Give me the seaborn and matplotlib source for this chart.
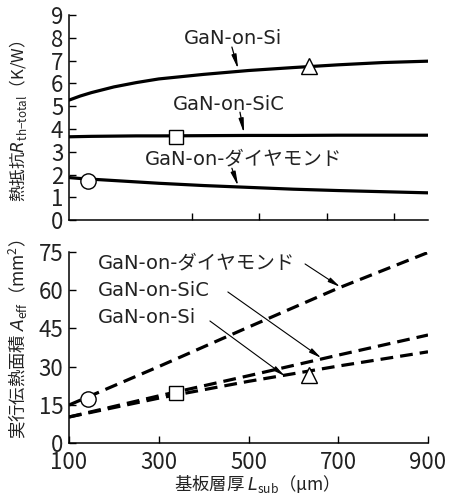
import numpy as np
import pandas as pd
import matplotlib
matplotlib.use("Agg")
import matplotlib.pyplot as plt
import seaborn as sns

sns.set_theme(style="ticks")
plt.rcParams['font.family'] = ['Noto Sans CJK JP', 'DejaVu Sans']
plt.rcParams['mathtext.fontset'] = 'custom'
plt.rcParams['mathtext.rm'] = 'Noto Sans CJK JP'
plt.rcParams['mathtext.it'] = 'DejaVu Sans:italic'

# substrate thickness (um)
L_top = [100, 125, 150, 200, 250, 300, 400, 500, 600, 700, 800, 900]
R_si = [5.27, 5.45, 5.6, 5.85, 6.04, 6.2, 6.4, 6.57, 6.7, 6.82, 6.92, 6.98]
R_sic = [3.66, 3.67, 3.68, 3.69, 3.7, 3.7, 3.71, 3.72, 3.72, 3.73, 3.73, 3.73]
R_dia = [1.87, 1.83, 1.8, 1.74, 1.68, 1.62, 1.52, 1.44, 1.36, 1.3, 1.25, 1.2]

L_bot = [100, 300, 500, 700, 900]
A_dia = [14.9, 30.0, 45.5, 60.8, 74.8]
A_sic = [10.2, 18.5, 26.4, 34.5, 42.4]
A_si = [10.2, 17.6, 24.2, 30.2, 35.8]

# highlighted points
mk_L = [142, 338, 635]
mk_R = [1.73, 3.66, 6.77]
mk_A = [17.1, 19.5, 26.7]
mk_shape = ['o', 's', '^']

top_ticks = [374, 523, 675, 824]

fig = plt.figure(figsize=(4.51, 4.97), dpi=100)
ax1 = fig.add_axes([0.153, 0.557, 0.796, 0.4125])
ax2 = fig.add_axes([0.153, 0.1087, 0.796, 0.3843])

lw = 2.3
for r in [R_si, R_sic, R_dia]:
    sns.lineplot(x=L_top, y=r, ax=ax1, color='black', lw=lw)

for a in [A_dia, A_sic, A_si]:
    sns.lineplot(x=L_bot, y=a, ax=ax2, color='black', lw=lw,
                 linestyle=(0, (4.0, 2.2)))

for ax, ys in [(ax1, mk_R), (ax2, mk_A)]:
    for x, y, m in zip(mk_L, ys, mk_shape):
        ax.plot(x, y, marker=m, ms=11 if m != 's' else 10.5, mfc='white',
                mec='black', mew=1.0, ls='none', zorder=5)

for ax in (ax1, ax2):
    ax.set_xlim(100, 900)
    for s in ['top', 'right']:
        ax.spines[s].set_visible(False)
    for s in ['left', 'bottom']:
        ax.spines[s].set_linewidth(1.1)
        ax.spines[s].set_color('black')
    ax.tick_params(direction='in', length=5, width=1.0, colors='black',
                   labelsize=16, labelcolor='#222222')
    ax.set_xlabel('')
    ax.set_ylabel('')

ax1.set_ylim(0, 9)
ax1.set_yticks(range(0, 10))
ax1.set_xticks(top_ticks)
ax1.set_xticklabels([])
ax1.tick_params(axis='y', pad=4)

ax2.set_ylim(0, 75)
ax2.set_yticks([0, 15, 30, 45, 60, 75])
ax2.set_xticks([100, 300, 500, 700, 900])
ax2.tick_params(axis='y', pad=4)
ax2.tick_params(axis='x', pad=6)

lab_col = '#222222'
lab_font = ['Noto Sans CJK JP', 'DejaVu Sans']
fig.text(18 / 451, 1 - 121 / 497, r'熱抵抗$R$$_{\rm th\mathrm{-}total}$（K/W）',
         rotation=90, ha='center', va='center', fontsize=12, color=lab_col,
         family=lab_font)
fig.text(18 / 451, 1 - 339 / 497, r'実行伝熱面積 $A$$_{\rm eff}$（mm$^2$）',
         rotation=90, ha='center', va='center', fontsize=12.5, color=lab_col,
         family=lab_font)
fig.text(252 / 451, 1 - 484 / 497, r'基板層厚 $L$$_{\rm sub}$（µm）',
         ha='center', va='center', fontsize=12.5, color=lab_col, family=lab_font)

fs = 14
tcol = '#222222'
txt_font = ['DejaVu Sans', 'Noto Sans CJK JP']
# top annotations
ax1.text(465, 7.99, 'GaN-on-Si', ha='center', va='center', fontsize=fs, color=tcol, family=txt_font)
ax1.text(457, 5.09, 'GaN-on-SiC', ha='center', va='center', fontsize=fs, color=tcol, family=txt_font)
ax1.text(488, 2.68, 'GaN-on-ダイヤモンド', ha='center', va='center', fontsize=fs, color=tcol, family=txt_font)
short = dict(arrowstyle='-|>,head_length=0.7,head_width=0.12', color='black', lw=0.9,
             shrinkA=0, shrinkB=0)
ax1.annotate('', xy=(477, 6.63), xytext=(463, 7.6), arrowprops=short)
ax1.annotate('', xy=(490, 3.82), xytext=(481, 4.74), arrowprops=short)
ax1.annotate('', xy=(477, 1.49), xytext=(463, 2.28), arrowprops=short)

# bottom annotations
ax2.text(165, 70.7, 'GaN-on-ダイヤモンド', ha='left', va='center', fontsize=fs, color=tcol, family=txt_font)
ax2.text(165, 59.7, 'GaN-on-SiC', ha='left', va='center', fontsize=fs, color=tcol, family=txt_font)
ax2.text(165, 49.1, 'GaN-on-Si', ha='left', va='center', fontsize=fs, color=tcol, family=txt_font)
long_ = dict(arrowstyle='-|>,head_length=0.6,head_width=0.12', color='black', lw=0.8,
             shrinkA=0, shrinkB=0)
ax2.annotate('', xy=(704, 61.3), xytext=(626, 70.3), arrowprops=long_)
ax2.annotate('', xy=(662, 33.4), xytext=(454, 59.3), arrowprops=long_)
ax2.annotate('', xy=(581, 26.3), xytext=(414, 47.9), arrowprops=long_)

fig.savefig('out.png', dpi=100)
